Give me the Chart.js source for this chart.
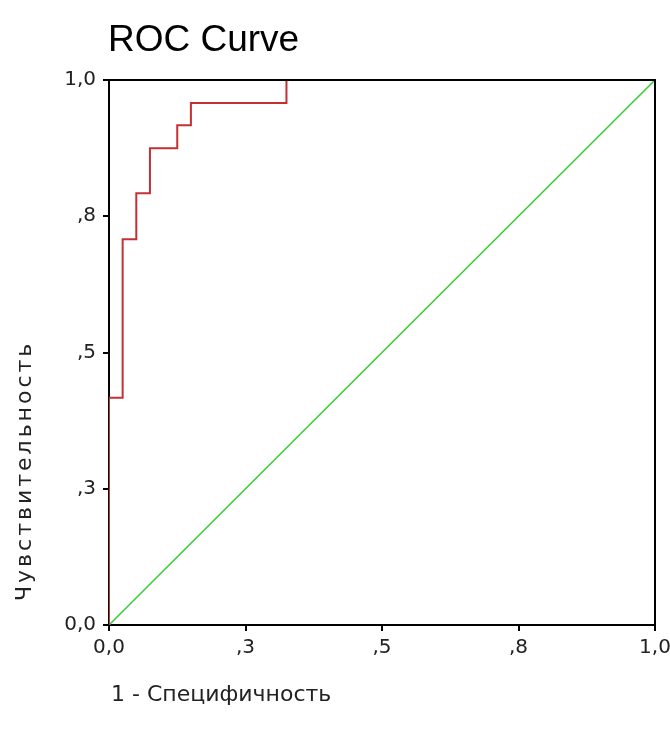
<!DOCTYPE html>
<html>
<head>
<meta charset="utf-8">
<script src="https://cdn.jsdelivr.net/npm/chart.js@4.4.1/dist/chart.umd.min.js"></script>
<style>
  body { margin: 0; background: #fff; }
  #wrap { width: 670px; height: 731px; }
</style>
</head>
<body>
<div id="wrap"><canvas id="roc"></canvas></div>
<script>
// ROC points (1 - specificity, sensitivity)
const fpr = [0, 0, 0.025, 0.05, 0.075, 0.125, 0.15, 0.325, 1];
const tpr = [0, 0.417, 0.708, 0.792, 0.875, 0.917, 0.958, 1, 1];
const refX = [0, 1];
const refY = [0, 1];
const tickValues = [0, 0.25, 0.5, 0.75, 1];
const tickLabels = ['0,0', ',3', ',5', ',8', '1,0'];

const titleText = 'ROC Curve';
const xTitle = '1 - Специфичность';
const yTitle = 'Чувствительность';

function labelFor(v) {
  const i = tickValues.findIndex(t => Math.abs(t - v) < 1e-6);
  return i >= 0 ? tickLabels[i] : '';
}

// frame + texts drawn around the plot, SPSS style
const spssDecor = {
  id: 'spssDecor',
  afterDatasetsDraw(chart) {
    const { ctx, chartArea: a } = chart;
    ctx.save();
    ctx.strokeStyle = '#000';
    ctx.lineWidth = 2;
    ctx.beginPath();
    ctx.moveTo(a.left, a.top);
    ctx.lineTo(a.right, a.top);
    ctx.lineTo(a.right, a.bottom);
    ctx.stroke();
    ctx.restore();
  },
  afterDraw(chart) {
    const { ctx, chartArea: a } = chart;
    ctx.save();
    ctx.fillStyle = '#000';
    ctx.textBaseline = 'alphabetic';
    ctx.textAlign = 'left';
    ctx.font = '37px "Liberation Sans", Arial, sans-serif';
    ctx.fillText(titleText, a.left - 1, 51);
    ctx.fillStyle = '#222';
    ctx.font = '22px "DejaVu Sans", sans-serif';
    ctx.fillText(xTitle, a.left + 2, 701);
    ctx.letterSpacing = '3px';
    ctx.translate(31, a.bottom - 24);
    ctx.rotate(-Math.PI / 2);
    ctx.fillText(yTitle, 0, 0);
    ctx.restore();
  }
};

new Chart(document.getElementById('roc'), {
  type: 'line',
  data: {
    datasets: [
      {
        data: fpr.map((x, i) => ({ x: x, y: tpr[i] })),
        borderColor: '#c43036',
        borderWidth: 2,
        stepped: 'before',
        pointRadius: 0,
        fill: false
      },
      {
        data: refX.map((x, i) => ({ x: x, y: refY[i] })),
        borderColor: '#33cc33',
        borderWidth: 1.5,
        pointRadius: 0,
        fill: false
      }
    ]
  },
  options: {
    responsive: true,
    maintainAspectRatio: false,
    animation: false,
    layout: { padding: { left: 48, top: 80, right: 15, bottom: 0 } },
    plugins: {
      legend: { display: false },
      tooltip: { enabled: false },
      title: { display: false }
    },
    scales: {
      x: {
        type: 'linear',
        min: 0,
        max: 1,
        afterFit(scale) {
          scale.height = 106;
          scale.paddingLeft = 0;
          scale.paddingRight = 0;
        },
        afterBuildTicks(scale) { scale.ticks = tickValues.map(v => ({ value: v })); },
        grid: { drawOnChartArea: false, drawTicks: true, tickLength: 6, color: '#000', lineWidth: 2 },
        border: { display: true, color: '#000', width: 2 },
        ticks: {
          color: '#222',
          padding: 5,
          maxRotation: 0,
          font: { family: '"DejaVu Sans", sans-serif', size: 20 },
          callback: v => labelFor(v)
        }
      },
      y: {
        type: 'linear',
        min: 0,
        max: 1,
        afterFit(scale) {
          scale.width = 61;
          scale.paddingTop = 0;
          scale.paddingBottom = 0;
        },
        afterBuildTicks(scale) { scale.ticks = tickValues.map(v => ({ value: v })); },
        grid: { drawOnChartArea: false, drawTicks: true, tickLength: 6, color: '#000', lineWidth: 2 },
        border: { display: true, color: '#000', width: 2 },
        ticks: {
          color: '#222',
          padding: 7,
          font: { family: '"DejaVu Sans", sans-serif', size: 20 },
          callback: v => labelFor(v)
        }
      }
    }
  },
  plugins: [spssDecor]
});
</script>
</body>
</html>
